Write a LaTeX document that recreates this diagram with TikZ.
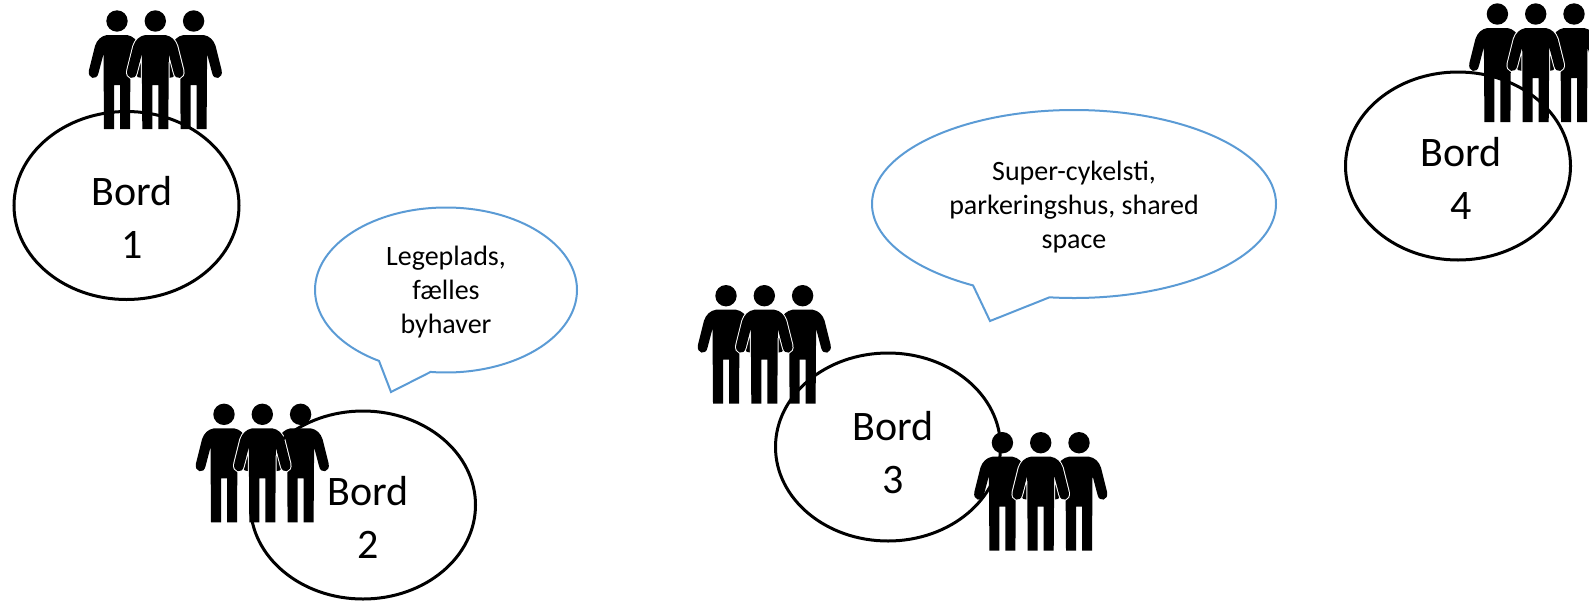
\documentclass[tikz,border=0pt]{standalone}
\usepackage{fontspec}
\setmainfont{Carlito}
\usetikzlibrary{shapes.geometric,shapes.callouts}
\definecolor{bubbleblue}{RGB}{91,155,213}
\newcommand{\personbody}{(0,14) -- (10,14) .. controls (16,15) and (20,19) .. (22,25) -- (28,49) .. controls (30,58) and (20,60) .. (18.5,52) -- (13.5,33) -- (13,108) -- (3,108) -- (3,64) -- (-3,64) -- (-3,108) -- (-13,108) -- (-13.5,33) -- (-18.5,52) .. controls (-20,60) and (-30,58) .. (-28,49) -- (-22,25) .. controls (-20,19) and (-16,15) .. (-10,14) -- cycle}
\tikzset{
    bord/.style={draw,ellipse,line width=3pt,minimum width=225pt,minimum height=188pt,inner sep=0pt},
    bordtext/.style={inner sep=0pt,align=center,font=\fontsize{42}{53}\selectfont},
    bubble/.style={draw=bubbleblue,ellipse callout,line width=2pt,minimum width=262pt,minimum height=165pt,inner sep=0pt},
    bubbletext/.style={inner sep=0pt,align=center,font=\fontsize{28}{34}\selectfont},
    person/.pic={
        \fill[black] \personbody;
        \fill[black] (0,0) circle (10.7);
    },
    haloperson/.pic={
        \draw[white,line width=2pt] \personbody;
        \fill[black] \personbody;
        \fill[black] (0,0) circle (10.7);
    },
    trio/.pic={
        \pic at (-38.3,0) {person};
        \pic at (38.3,0) {person};
        \pic at (0,0) {haloperson};
    }
}
\begin{document}
\begin{tikzpicture}[x=1pt,y=-1pt]
    \useasboundingbox (0,0) rectangle (1589,600);
    % people
    \pic at (155.3,21) {trio};
    \pic at (262.3,414.3) {trio};
    \pic at (764.3,295.7) {trio};
    \pic at (1040.7,442.7) {trio};
    \pic at (1535.7,14) {trio};
    % tables
    \node[bord] (bord1) at (126.5,205.5) {};
    \node[bord] (bord2) at (363,505) {};
    \node[bord] (bord3) at (888,447) {};
    \node[bord] (bord4) at (1458,166) {};
    \node[bordtext] (text1) at (132,217) {Bord\\1};
    \node[bordtext] (text2) at (368,517) {Bord\\2};
    \node[bordtext] (text3) at (893,453) {Bord\\3};
    \node[bordtext] (text4) at (1461,178) {Bord\\4};
    % speech
    \node[bubble,callout absolute pointer={(391,392)},callout pointer arc=24] (leg) at (446,290) {};
    \node[bubble,minimum width=404pt,minimum height=188pt,callout absolute pointer={(990,321)},callout pointer arc=23] (cyk) at (1074,204) {};
    \node[bubbletext] (legtext) at (446,292) {Legeplads,\\fælles\\byhaver};
    \node[bubbletext] (cyktext) at (1074,207) {Super-cykelsti,\\parkeringshus, shared\\space};
\end{tikzpicture}
\end{document}
